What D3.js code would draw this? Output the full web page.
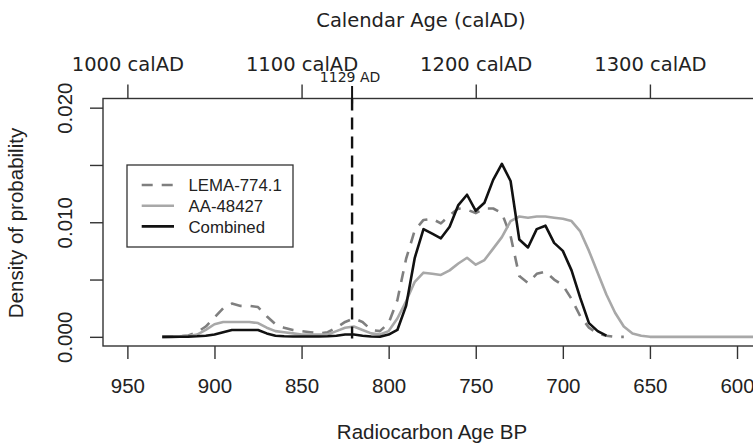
<!DOCTYPE html>
<html>
<head>
<meta charset="utf-8">
<script src="https://cdn.jsdelivr.net/npm/d3@7"></script>
<style>
  html, body { margin: 0; padding: 0; background: #fff; }
  svg { display: block; }
</style>
</head>
<body>
<svg id="chart" width="753" height="447"></svg>
<script>
// ---------------- DATA ----------------
const radiocarbonBP = [930, 925, 920, 915, 910, 905, 900, 895, 890, 885, 880, 875, 870, 865, 860, 855, 850, 845, 840, 835, 830, 825, 820, 815, 810, 805, 800, 795, 790, 785, 780, 775, 770, 765, 760, 755, 750, 745, 740, 735, 730, 725, 720, 715, 710, 705, 700, 695, 690, 685, 680, 675, 670, 665, 660, 655, 650, 640, 630, 620, 610, 600, 590];

const lema774 = [0, 0.00002, 0.00005, 0.00012, 0.0004, 0.0009, 0.0017, 0.0025, 0.0029, 0.0027, 0.0027, 0.0026, 0.0018, 0.0011, 0.0008, 0.0006, 0.0005, 0.0004, 0.0003, 0.0004, 0.0008, 0.0013, 0.0016, 0.0013, 0.0006, 0.0005, 0.0012, 0.0032, 0.0068, 0.0093, 0.0102, 0.0103, 0.0099, 0.0106, 0.0112, 0.0111, 0.0108, 0.0112, 0.0112, 0.0108, 0.0088, 0.0053, 0.0047, 0.0055, 0.0057, 0.0050, 0.0045, 0.0033, 0.0018, 0.0008, 0.0003, 0.0001, 0.0000, 0.0000, null, null, null, null, null, null, null, null, null];

const aa48427 = [0, 0.00002, 0.00004, 0.00008, 0.0002, 0.0006, 0.0011, 0.0013, 0.0013, 0.0013, 0.0013, 0.0012, 0.0008, 0.0005, 0.0004, 0.0003, 0.0002, 0.0002, 0.0002, 0.0002, 0.0005, 0.0008, 0.0009, 0.0006, 0.0003, 0.0002, 0.0005, 0.0016, 0.0031, 0.0048, 0.0056, 0.0055, 0.0054, 0.0058, 0.0064, 0.0069, 0.0063, 0.0067, 0.0077, 0.0087, 0.0101, 0.0105, 0.0104, 0.0105, 0.0105, 0.0104, 0.0103, 0.0101, 0.0092, 0.0075, 0.0056, 0.0037, 0.0021, 0.0009, 0.0003, 0.0001, 0, 0, 0, 0, 0, 0, 0];

const combined = [0, 0, 0.00001, 0.00002, 0.00005, 0.0001, 0.0002, 0.0004, 0.0006, 0.0006, 0.0006, 0.0006, 0.0003, 0.0001, 0.00005, 0.00003, 0.00003, 0.00003, 0.00003, 0.00005, 0.0001, 0.0002, 0.0002, 0.0001, 0.00003, 0.00001, 0.0002, 0.0006, 0.0027, 0.0069, 0.0094, 0.0090, 0.0086, 0.0096, 0.0115, 0.0124, 0.0110, 0.0117, 0.0137, 0.0151, 0.0136, 0.0085, 0.0078, 0.0094, 0.0097, 0.0082, 0.0075, 0.0058, 0.0034, 0.0012, 0.0005, 0.0001, null, null, null, null, null, null, null, null, null, null, null];

const bpTicks = [950, 900, 850, 800, 750, 700, 650, 600];
const calTicks = [1000, 1100, 1200, 1300];
const densityTicks = [0, 0.005, 0.010, 0.015, 0.020];
const densityLabels = ["0.000", "", "0.010", "", "0.020"];
const markerYearAD = 1129;
const seriesNames = ["LEMA-774.1", "AA-48427", "Combined"];

// ---------------- LAYOUT ----------------
const svg = d3.select("#chart");
const L = 103, R = 761.4, T = 98.5, B = 346;

const x = d3.scaleLinear().domain([964, 586]).range([L, R]);
const xCal = d3.scaleLinear().domain([1950 - 964, 1950 - 586]).range([L, R]);
const y = d3.scaleLinear().domain([-0.0008, 0.0208]).range([B, T]);

const axisColor = "#333";
const sansA = "'Liberation Sans', Arial, sans-serif";
const sansV = "'DejaVu Sans', Verdana, sans-serif";

svg.append("defs").append("clipPath").attr("id", "plotclip")
  .append("rect").attr("x", L).attr("y", T).attr("width", R - L).attr("height", B - T);

// curves
const styles = [
  { data: lema774, color: "#7f7f7f", dash: "11,9", width: 2.6 },
  { data: aa48427, color: "#a8a8a8", dash: null, width: 2.6 },
  { data: combined, color: "#111", dash: null, width: 2.6 }
];
const curves = svg.append("g").attr("clip-path", "url(#plotclip)");
styles.forEach(s => {
  const pts = radiocarbonBP.map((b, i) => [b, s.data[i]]);
  const line = d3.line().defined(d => d[1] !== null).x(d => x(d[0])).y(d => y(d[1]));
  curves.append("path").attr("d", line(pts))
    .attr("fill", "none").attr("stroke", s.color).attr("stroke-width", s.width)
    .attr("stroke-linejoin", "round")
    .attr("stroke-dasharray", s.dash);
});

// vertical marker line
const mx = xCal(markerYearAD);
svg.append("line").attr("x1", mx).attr("x2", mx).attr("y1", T).attr("y2", y(-0.0003))
  .attr("stroke", "#111").attr("stroke-width", 2.4).attr("stroke-dasharray", "12,7");

// box
svg.append("rect").attr("x", L).attr("y", T).attr("width", R - L).attr("height", B - T)
  .attr("fill", "none").attr("stroke", axisColor).attr("stroke-width", 1.4);

function styleAxis(g) {
  g.select(".domain").remove();
  g.selectAll(".tick line").attr("stroke", axisColor).attr("stroke-width", 1.4);
  g.selectAll(".tick text").attr("fill", "#222");
}

// bottom axis
const gB = svg.append("g").attr("transform", `translate(0,${B})`)
  .call(d3.axisBottom(x).tickValues(bpTicks).tickSize(13).tickFormat(d3.format("d")));
styleAxis(gB);
gB.selectAll(".tick text").attr("y", 47).attr("dy", 0)
  .style("font-family", sansA).style("font-size", "20.5px");

// top axis
const gT = svg.append("g").attr("transform", `translate(0,${T})`)
  .call(d3.axisTop(xCal).tickValues(calTicks).tickSize(14).tickFormat(d => d + " calAD"));
styleAxis(gT);
gT.selectAll(".tick text").attr("y", -27.5).attr("dy", 0)
  .style("font-family", sansV).style("font-size", "19.5px");

// marker tick + label
svg.append("line").attr("x1", mx).attr("x2", mx).attr("y1", 86).attr("y2", 103.5)
  .attr("stroke", "#111").attr("stroke-width", 2);
svg.append("text").attr("x", mx - 2).attr("y", 82).attr("text-anchor", "middle")
  .style("font-family", sansV).style("font-size", "14px").attr("fill", "#222")
  .text(markerYearAD + " AD");

// left axis
const gL = svg.append("g").attr("transform", `translate(${L},0)`)
  .call(d3.axisLeft(y).tickValues(densityTicks).tickSize(13).tickFormat((d, i) => densityLabels[i]));
styleAxis(gL);
gL.selectAll(".tick text").attr("x", 0).attr("dy", 0)
  .attr("transform", "translate(-31.3,0) rotate(-90)")
  .attr("text-anchor", "middle")
  .style("font-family", sansA).style("font-size", "20.5px");

// axis titles
svg.append("text").attr("x", 421).attr("y", 27).attr("text-anchor", "middle")
  .style("font-family", sansV).style("font-size", "19.5px").attr("fill", "#222")
  .text("Calendar Age (calAD)");
svg.append("text").attr("x", 432).attr("y", 439).attr("text-anchor", "middle")
  .style("font-family", sansA).style("font-size", "20.5px").attr("fill", "#222")
  .text("Radiocarbon Age BP");
svg.append("text").attr("transform", "translate(22.5,223) rotate(-90)").attr("text-anchor", "middle")
  .style("font-family", sansA).style("font-size", "20.5px").attr("fill", "#222")
  .text("Density of probability");

// legend
const lg = svg.append("g");
lg.append("rect").attr("x", 127).attr("y", 165).attr("width", 166).attr("height", 82)
  .attr("fill", "#fff").attr("stroke", axisColor).attr("stroke-width", 1.3);
const rowY = [185, 205.7, 226.4];
seriesNames.forEach((name, i) => {
  lg.append("line").attr("x1", 141.7).attr("x2", 174).attr("y1", rowY[i]).attr("y2", rowY[i])
    .attr("stroke", styles[i].color).attr("stroke-width", styles[i].width)
    .attr("stroke-dasharray", styles[i].dash);
  lg.append("text").attr("x", 188.5).attr("y", rowY[i] + 6.2)
    .style("font-family", sansA).style("font-size", "16.8px").attr("fill", "#222")
    .text(name);
});
</script>
</body>
</html>
